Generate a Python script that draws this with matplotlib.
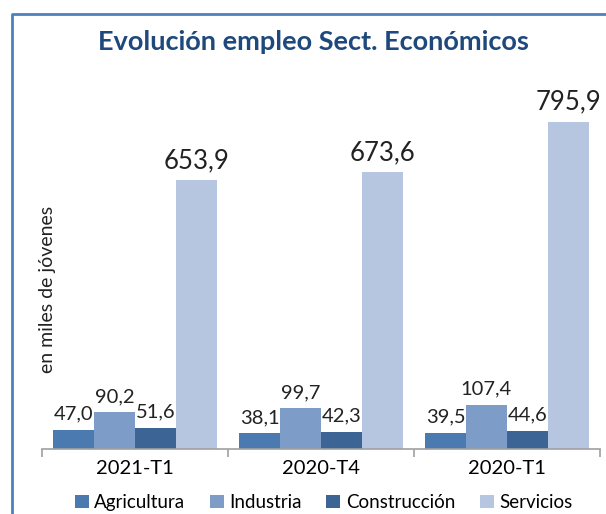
import matplotlib.pyplot as plt
from matplotlib.lines import Line2D
import numpy as np

# datos
periodos = ["2021-T1", "2020-T4", "2020-T1"]
sectores = ["Agricultura", "Industria", "Construcción", "Servicios"]
agricultura = [47.0, 38.1, 39.5]
industria = [90.2, 99.7, 107.4]
construccion = [51.6, 42.3, 44.6]
servicios = [653.9, 673.6, 795.9]
colores = ["#4A7AB0", "#7E9CC8", "#3C6494", "#B7C6E0"]

plt.rcParams["font.family"] = ["Lato", "DejaVu Sans"]

fig = plt.figure(figsize=(6.06, 5.14), dpi=100, facecolor="white")
ax = fig.add_axes([0.069, 0.1265, 0.921, 0.72])

x = np.arange(len(periodos))
ancho = 0.22
series = [agricultura, industria, construccion, servicios]
for i, (nombre, vals) in enumerate(zip(sectores, series)):
    pos = x - 1.5 * ancho + i * ancho
    ax.bar(pos, vals, width=ancho, color=colores[i], label=nombre)
    tam = 18.5 if nombre == "Servicios" else 14.5
    for p, v in zip(pos, vals):
        ax.annotate(f"{v:.1f}".replace(".", ","), (p, v), xytext=(0, 5),
                    textcoords="offset points", ha="center", va="bottom",
                    fontsize=tam, color="#222222")

ax.set_xlim(-0.5, 2.5)
ax.set_ylim(0, 900)
ax.set_yticks([])
for s in ["top", "right", "left"]:
    ax.spines[s].set_visible(False)
ax.spines["bottom"].set_color("#A0A0A0")
ax.spines["bottom"].set_linewidth(1.2)

ax.set_xticks(x)
ax.set_xticklabels(periodos, fontsize=14.5)
ax.set_xticks([-0.5, 0.5, 1.5, 2.5], minor=True)
ax.tick_params(axis="x", which="major", length=0, pad=8)
ax.tick_params(axis="x", which="minor", length=6, color="#A0A0A0", width=1.2)

ax.set_ylabel("en miles de jóvenes", fontsize=14, color="#222222")
ax.yaxis.set_label_coords(0.025, 0.43)

fig.text(0.517, 0.918, "Evolución empleo Sect. Económicos", ha="center", va="center",
         fontsize=19.5, fontweight="bold", color="#1F497D")

ax.legend(loc="center", bbox_to_anchor=(0.505, -0.145), ncol=4, frameon=False,
          fontsize=13.5, handlelength=0.75, handleheight=0.75, handletextpad=0.3,
          columnspacing=1.3)

# marco
fig.add_artist(Line2D([12 / 606, 12 / 606, 1.0], [0.0, 1 - 14 / 514, 1 - 14 / 514],
                      transform=fig.transFigure, color="#4F81BD", linewidth=2))

fig.savefig("out.png", dpi=100, facecolor="white")
